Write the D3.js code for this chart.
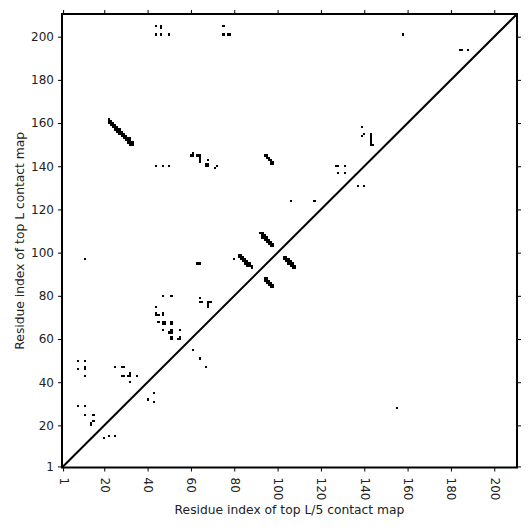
<!DOCTYPE html>
<html>
<head>
<meta charset="utf-8">
<script src="https://cdn.jsdelivr.net/npm/d3@7"></script>
<style>
  html, body { margin: 0; padding: 0; background: #fff; }
  text { font-family: "DejaVu Sans", sans-serif; }
</style>
</head>
<body>
<div id="chart"></div>
<script>
// protein length / axis extent
const seqLength = 210;
const tickValues = [1, 20, 40, 60, 80, 100, 120, 140, 160, 180, 200];

// contacts above the diagonal (top L map), [i, j]
const strandA = [[22,162],[22,161],[22,160],[23,161],[23,160],[23,159],[24,160],[24,159],[24,158],[25,159],[25,158],[25,157],
  [26,158],[26,157],[26,156],[27,157],[27,156],[27,155],[28,156],[28,155],[28,154],[29,155],[29,154],[29,153],
  [30,154],[30,153],[30,152],[31,153],[31,152],[31,151],[32,153],[32,152],[32,151],[32,150],[33,151],[33,150]];
const strandB = [[92,109],[93,109],[93,108],[93,107],[94,108],[94,107],[94,106],[95,107],[95,106],[95,105],
  [96,106],[96,105],[96,104],[97,105],[97,104],[97,103],[98,104],[98,103]];
const strandC = [[82,99],[83,99],[82,98],[83,98],[84,98],[83,97],[84,97],[85,97],[84,96],[85,96],[86,96],
  [85,95],[86,95],[87,95],[86,94],[87,94],[88,94],[88,93]];
const strandD = [[94,145],[95,145],[95,144],[96,144],[96,143],[97,143],[97,142],[98,142],[97,141],[98,141]];
const clusterTop = [[44,205],[46,205],[46,204],[44,201],[46,201],[50,201],[75,205],[75,201],[77,201],[78,201],
  [158,201],[184,194],[185,194],[188,194]];
const cluster140 = [[44,140],[47,140],[50,140],[61,146],[60,145],[61,145],[63,145],[64,145],[64,144],[64,143],[64,142],
  [68,143],[67,141],[68,141],[67,140],[68,140],[72,140],[71,139],
  [127,140],[128,140],[131,140],[128,137],[131,137],[137,131],[140,131],[106,124],[117,124]];
const cluster150 = [[139,158],[139,154],[140,155],[143,155],[143,154],[143,153],[143,152],[143,151],[143,150],[144,150]];
const clusterMid = [[11,97],[63,95],[64,95],[80,97],[47,80],[51,80],[64,79],[64,77],[65,77],[68,77],[69,77],[68,76],[68,75],
  [44,75],[44,72],[44,71],[45,71],[47,72],[47,71],[45,68],[47,68],[48,68],[47,67],[48,67],[51,68],[51,67],
  [47,64],[51,64],[50,63],[51,63],[55,64],[51,61],[51,60],[54,60],[55,60],[55,61]];
const clusterLow = [[8,50],[11,50],[8,46],[11,47],[11,46],[11,43],[25,47],[28,47],[29,47],[28,43],[29,43],
  [32,44],[31,43],[32,43],[35,43],[32,40],[8,29],[11,29],[11,25],[15,25],[15,22],[14,21],[14,20]];

// contacts below the diagonal (top L/5 map)
const lowerStrandA = [[103,98],[104,98],[103,97],[104,97],[105,97],[104,96],[105,96],[106,96],[105,95],[106,95],[107,95],
  [106,94],[107,94],[108,94],[107,93],[108,93]];
const lowerStrandB = [[94,88],[95,88],[94,87],[95,87],[96,87],[95,86],[96,86],[97,86],[96,85],[97,85],[98,85],[97,84],[98,84]];
const lowerSingles = [[61,55],[64,51],[67,47],[155,28],[40,32],[43,35],[43,31],[20,14],[22,15],[25,15]];

const contacts = [].concat(strandA, strandB, strandC, strandD, clusterTop, cluster140, cluster150,
  clusterMid, clusterLow, lowerStrandA, lowerStrandB, lowerSingles);

const width = 531, height = 531;
const margin = {top: 14, right: 14, bottom: 63.5, left: 62};

const x = d3.scaleLinear().domain([0.5, seqLength + 0.5]).range([margin.left, width - margin.right]);
const y = d3.scaleLinear().domain([0.5, seqLength + 0.5]).range([height - margin.bottom, margin.top]);

const svg = d3.select("#chart").append("svg")
  .attr("width", width)
  .attr("height", height);

// contact cells
svg.append("g")
  .attr("fill", "#000")
  .attr("shape-rendering", "crispEdges")
  .selectAll("rect")
  .data(contacts)
  .join("rect")
  .attr("x", d => x(d[0] - 0.5))
  .attr("y", d => y(d[1] + 0.5))
  .attr("width", d => x(d[0] + 0.5) - x(d[0] - 0.5))
  .attr("height", d => y(d[1] - 0.5) - y(d[1] + 0.5));

// diagonal
svg.append("line")
  .attr("x1", x(0.5)).attr("y1", y(0.5))
  .attr("x2", x(seqLength + 0.5)).attr("y2", y(seqLength + 0.5))
  .attr("stroke", "#000")
  .attr("stroke-width", 2);

// axes
const xAxis = svg.append("g")
  .attr("transform", `translate(0,${y(0.5)})`)
  .call(d3.axisBottom(x).tickValues(tickValues).tickSize(4).tickPadding(0));
xAxis.selectAll("text")
  .attr("y", 0).attr("dy", null)
  .attr("x", 0)
  .attr("text-anchor", "start")
  .attr("dominant-baseline", "central")
  .attr("transform", "translate(0,10) rotate(90)");

svg.append("g")
  .attr("transform", `translate(${x(0.5)},0)`)
  .call(d3.axisLeft(y).tickValues(tickValues).tickSize(4).tickPadding(4));

svg.append("g")
  .attr("transform", `translate(0,${y(seqLength + 0.5)})`)
  .call(d3.axisTop(x).tickValues(tickValues).tickSize(4).tickFormat(""));
svg.append("g")
  .attr("transform", `translate(${x(seqLength + 0.5)},0)`)
  .call(d3.axisRight(y).tickValues(tickValues).tickSize(4).tickFormat(""));

svg.selectAll(".domain").remove();
svg.selectAll(".tick text")
  .attr("font-family", "DejaVu Sans")
  .attr("font-size", 12)
  .attr("fill", "#222");
svg.selectAll(".tick line").attr("stroke", "#000");

// frame
svg.append("rect")
  .attr("x", x(0.5)).attr("y", y(seqLength + 0.5))
  .attr("width", x(seqLength + 0.5) - x(0.5))
  .attr("height", y(0.5) - y(seqLength + 0.5))
  .attr("fill", "none")
  .attr("stroke", "#000")
  .attr("stroke-width", 2);

// titles
svg.append("text")
  .attr("x", (x(0.5) + x(seqLength + 0.5)) / 2)
  .attr("y", 514)
  .attr("text-anchor", "middle")
  .attr("font-size", 12.3)
  .attr("fill", "#222")
  .text("Residue index of top L/5 contact map");

svg.append("text")
  .attr("transform", `translate(24,${(y(0.5) + y(seqLength + 0.5)) / 2}) rotate(-90)`)
  .attr("text-anchor", "middle")
  .attr("font-size", 12.3)
  .attr("fill", "#222")
  .text("Residue index of top L contact map");
</script>
</body>
</html>
